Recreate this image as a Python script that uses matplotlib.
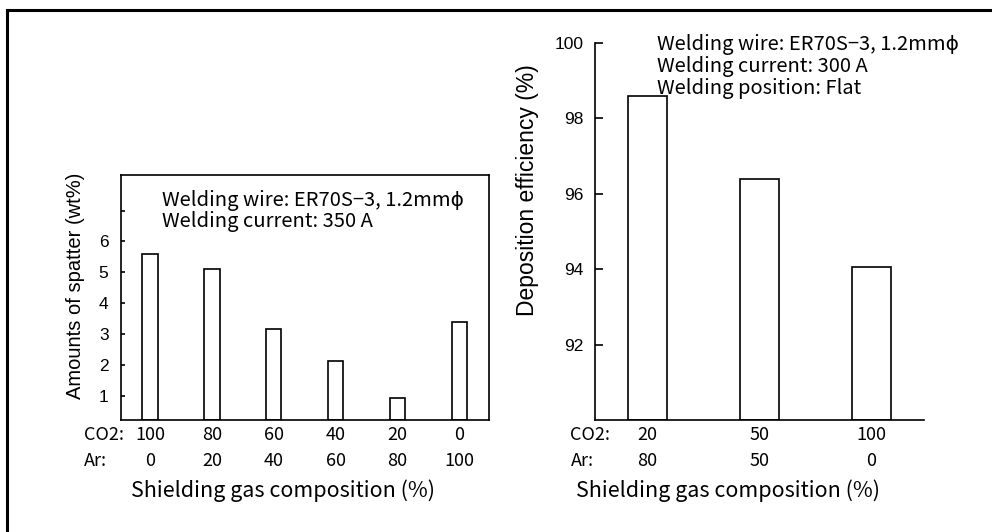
import matplotlib
matplotlib.use("Agg")
import matplotlib.pyplot as plt
from matplotlib import transforms
from matplotlib.lines import Line2D

# ---- data ----
left_co2 = ["100", "80", "60", "40", "20", "0"]
left_ar = ["0", "20", "40", "60", "80", "100"]
spatter = [5.6, 5.1, 3.15, 2.12, 0.92, 3.38]

right_co2 = ["20", "50", "100"]
right_ar = ["80", "50", "0"]
deposition = [98.6, 96.4, 94.05]

REG = ["Liberation Sans", "DejaVu Sans"]
JP = ["Noto Sans CJK JP", "DejaVu Sans"]

fig = plt.figure(figsize=(9.92, 5.32), dpi=100)


def fy(py):
    return 1 - py / 532


def fx(px):
    return px / 992


# outer frame (top and left edges visible)
fig.add_artist(Line2D([fx(7), fx(7)], [0, fy(10)], transform=fig.transFigure, color="black", lw=2.2))
fig.add_artist(Line2D([fx(7), 1.0], [fy(10), fy(10)], transform=fig.transFigure, color="black", lw=2.2))

# ---- left chart ----
axL = fig.add_axes([fx(121), fy(420), fx(489) - fx(121), fy(175) - fy(420)])
xl = list(range(len(spatter)))
axL.bar(xl, [v - 0.22 for v in spatter], bottom=0.22, width=0.25,
        facecolor="white", edgecolor="black", lw=1.2)
axL.set_xlim(-0.47, 5.48)
axL.set_ylim(0.22, 8.15)
axL.set_yticks([1, 2, 3, 4, 5, 6, 7])
axL.set_yticklabels(["1", "2", "3", "4", "5", "6", ""], fontfamily=REG, fontsize=12.5)
axL.tick_params(axis="y", direction="in", length=3, width=1.2, pad=9)
axL.set_xticks([])
for s in axL.spines.values():
    s.set_linewidth(1.2)
axL.set_ylabel("Amounts of spatter (wt%)", fontfamily=REG, fontsize=14.5)
axL.yaxis.set_label_coords((85 - 121) / 368, (420 - 286) / 245)

trL = transforms.blended_transform_factory(axL.transData, fig.transFigure)
for i, (c, a) in enumerate(zip(left_co2, left_ar)):
    axL.text(i, fy(440.5), c, transform=trL, ha="center", va="baseline", fontfamily=JP, fontsize=13)
    axL.text(i, fy(466.5), a, transform=trL, ha="center", va="baseline", fontfamily=JP, fontsize=13)
fig.text(fx(84), fy(440.5), "CO2:", ha="left", va="baseline", fontfamily=JP, fontsize=13)
fig.text(fx(84), fy(466.5), "Ar:", ha="left", va="baseline", fontfamily=JP, fontsize=13)
fig.text(fx(283), fy(497), "Shielding gas composition (%)", ha="center", va="baseline",
         fontfamily=JP, fontsize=15.5)

for txt, base in [("Welding wire: ER70S\u22123, 1.2mm\u03d5", 206.5),
                  ("Welding current: 350 A", 226.5)]:
    fig.text(fx(162), fy(base), txt, ha="left", va="baseline", fontfamily=JP, fontsize=14.5)

# ---- right chart ----
axR = fig.add_axes([fx(595), fy(420), fx(924) - fx(595), fy(43) - fy(420)])
xr = list(range(len(deposition)))
axR.bar(xr, [v - 90 for v in deposition], bottom=90, width=0.35,
        facecolor="white", edgecolor="black", lw=1.2)
axR.set_xlim(-0.47, 2.47)
axR.set_ylim(90, 100)
axR.set_yticks([92, 94, 96, 98, 100])
axR.set_yticklabels(["92", "94", "96", "98", "100"], fontfamily=REG, fontsize=12.5)
axR.tick_params(axis="y", direction="in", length=6, width=1.2, pad=8)
axR.set_xticks([])
axR.spines["top"].set_visible(False)
axR.spines["right"].set_visible(False)
for s in ("left", "bottom"):
    axR.spines[s].set_linewidth(1.2)
axR.set_ylabel("Deposition efficiency (%)", fontfamily=REG, fontsize=16.5)
axR.yaxis.set_label_coords((539 - 595) / 329, (420 - 190) / 377)

trR = transforms.blended_transform_factory(axR.transData, fig.transFigure)
for i, (c, a) in enumerate(zip(right_co2, right_ar)):
    axR.text(i, fy(440.5), c, transform=trR, ha="center", va="baseline", fontfamily=JP, fontsize=13)
    axR.text(i, fy(466.5), a, transform=trR, ha="center", va="baseline", fontfamily=JP, fontsize=13)
fig.text(fx(570), fy(440.5), "CO2:", ha="left", va="baseline", fontfamily=JP, fontsize=13)
fig.text(fx(571), fy(466.5), "Ar:", ha="left", va="baseline", fontfamily=JP, fontsize=13)
fig.text(fx(728), fy(497), "Shielding gas composition (%)", ha="center", va="baseline",
         fontfamily=JP, fontsize=15.5)

for txt, base in [("Welding wire: ER70S\u22123, 1.2mm\u03d5", 50),
                  ("Welding current: 300 A", 72),
                  ("Welding position: Flat", 94)]:
    fig.text(fx(657), fy(base), txt, ha="left", va="baseline", fontfamily=JP, fontsize=14.5)

fig.savefig("out.png", dpi=100)
